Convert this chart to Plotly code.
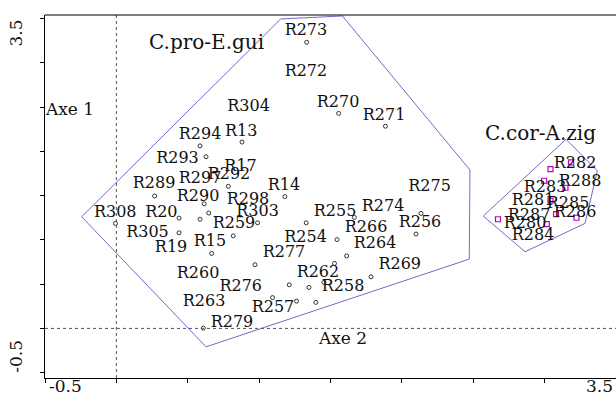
import plotly.graph_objects as go

# ---- data ----
label_names = ["R273", "R272", "R304", "R270", "R271", "R294", "R13", "R293", "R17", "R297",
               "R292", "R289", "R14", "R290", "R298", "R308", "R20", "R303", "R259", "R305",
               "R19", "R15", "R260", "R276", "R263", "R257", "R279", "R277", "R254", "R262",
               "R258", "R266", "R264", "R269", "R255", "R274", "R256", "R275"]
label_x = [1.328, 1.328, 0.926, 1.553, 1.875, 0.586, 0.875, 0.428, 0.870, 0.586,
           0.789, 0.264, 1.174, 0.572, 0.922, -0.008, 0.315, 0.989, 0.824, 0.218,
           0.383, 0.656, 0.572, 0.871, 0.614, 1.097, 0.810, 1.174, 1.325, 1.412,
           1.588, 1.749, 1.812, 1.985, 1.532, 1.868, 2.127, 2.194]
label_y = [3.359, 2.893, 2.504, 2.549, 2.402, 2.184, 2.221, 1.910, 1.826, 1.684,
           1.732, 1.627, 1.611, 1.480, 1.450, 1.306, 1.306, 1.318, 1.179, 1.073,
           0.904, 0.979, 0.610, 0.463, 0.301, 0.226, 0.063, 0.847, 1.017, 0.628,
           0.470, 1.130, 0.953, 0.715, 1.318, 1.374, 1.186, 1.600]

zig_names = ["R282", "R288", "R283", "R281", "R285", "R286", "R287", "R280", "R284"]
zig_label_x = [3.213, 3.248, 3.003, 2.919, 3.164, 3.213, 2.891, 2.863, 2.919]
zig_label_y = [1.856, 1.656, 1.582, 1.438, 1.405, 1.299, 1.269, 1.175, 1.043]

gui_pts_x = [1.333, 1.557, 1.885, 0.586, 0.880, 0.628, 0.784, 0.268, 0.615, 0.647,
             0.439, 0.586, -0.006, 0.989, 0.439, 0.819, 1.180, 1.330, 0.668, 1.667,
             2.134, 2.099, 1.546, 1.613, 1.528, 0.971, 1.784, 1.211, 1.349, 1.094,
             1.262, 1.397, 0.609, 1.454]
gui_pts_y = [3.232, 2.429, 2.284, 2.062, 2.105, 1.939, 1.605, 1.495, 1.408, 1.303,
             1.246, 1.233, 1.186, 1.193, 1.080, 1.046, 1.489, 1.193, 0.847, 1.254,
             1.299, 1.066, 1.003, 0.819, 0.734, 0.719, 0.583, 0.493, 0.463, 0.348,
             0.308, 0.294, 0.003, 0.520]

zig_pts_x = [3.041, 3.185, 2.996, 3.146, 3.041, 3.080, 3.223, 2.673, 3.015]
zig_pts_y = [1.800, 1.876, 1.668, 1.589, 1.444, 1.292, 1.250, 1.233, 1.179]

hull_gui_x = [1.151, 1.583, 2.477, 2.472, 0.628, -0.243]
hull_gui_y = [3.495, 3.529, 1.789, 0.783, -0.208, 1.261]
hull_zig_x = [3.150, 3.369, 3.283, 2.863, 2.570]
hull_zig_y = [2.136, 1.781, 1.186, 0.866, 1.269]

group_names = ["C.pro-E.gui", "C.cor-A.zig"]
group_x = [0.631, 2.568]
group_y = [3.235, 2.210]

x_range = [-0.5, 3.5]
y_range = [-0.56, 3.54]
tick_vals = [-0.5, 0.0, 0.5, 1.0, 1.5, 2.0, 2.5, 3.0, 3.5]
x_tick_labels = ["-0.5", "3.5"]
y_tick_labels = ["3.5", "-0.5"]

FONT = "DejaVu Serif"
HULL = "#7468c8"
MAG = "#c000c0"
TXT = "#111111"

fig = go.Figure()

# dotted reference lines
fig.add_shape(type="line", x0=0, x1=0, y0=0, y1=1, xref="x", yref="paper",
              line=dict(color="#555555", width=1, dash="dot"))
fig.add_shape(type="line", x0=0, x1=1, y0=0, y1=0, xref="paper", yref="y",
              line=dict(color="#555555", width=1, dash="dot"))
# top border
fig.add_shape(type="line", x0=0, x1=1, y0=1, y1=1, xref="paper", yref="paper",
              line=dict(color="black", width=1.2))

# hulls
fig.add_trace(go.Scatter(x=hull_gui_x + hull_gui_x[:1], y=hull_gui_y + hull_gui_y[:1],
                         mode="lines", line=dict(color=HULL, width=1), hoverinfo="skip"))
fig.add_trace(go.Scatter(x=hull_zig_x + hull_zig_x[:1], y=hull_zig_y + hull_zig_y[:1],
                         mode="lines", line=dict(color=HULL, width=1), hoverinfo="skip"))

# points
fig.add_trace(go.Scatter(x=gui_pts_x, y=gui_pts_y, mode="markers",
                         marker=dict(symbol="circle-open", size=4, color="#333333",
                                     line=dict(width=1))))
fig.add_trace(go.Scatter(x=zig_pts_x, y=zig_pts_y, mode="markers",
                         marker=dict(symbol="square-open", size=5, color=MAG,
                                     line=dict(width=1.2))))

# labels
fig.add_trace(go.Scatter(x=label_x, y=label_y, text=label_names, mode="text",
                         textposition="middle center",
                         textfont=dict(family=FONT, size=16, color=TXT)))
fig.add_trace(go.Scatter(x=zig_label_x, y=zig_label_y, text=zig_names, mode="text",
                         textposition="middle center",
                         textfont=dict(family=FONT, size=16, color=TXT)))

# group labels
fig.add_annotation(x=group_x[0], y=group_y[0], text=group_names[0], showarrow=False,
                   xanchor="center", yanchor="middle",
                   font=dict(family=FONT, size=20, color=TXT))
fig.add_annotation(x=group_x[1], y=group_y[1], text=group_names[1], showarrow=False,
                   xanchor="left", yanchor="middle",
                   font=dict(family=FONT, size=20, color=TXT))

# axis names
fig.add_annotation(x=-0.325, y=2.478, text="Axe 1", showarrow=False,
                   font=dict(family=FONT, size=17, color=TXT))
fig.add_annotation(x=1.581, y=-0.106, text="Axe 2", showarrow=False,
                   font=dict(family=FONT, size=17, color=TXT))

# tick labels (only extremes)
fig.add_annotation(x=x_range[0], y=0, xref="x", yref="paper", text=x_tick_labels[0],
                   showarrow=False, xanchor="center", yanchor="middle", xshift=20, yshift=-8,
                   font=dict(family=FONT, size=17, color=TXT))
fig.add_annotation(x=x_range[1], y=0, xref="x", yref="paper", text=x_tick_labels[1],
                   showarrow=False, xanchor="right", yanchor="middle", xshift=-1, yshift=-8,
                   font=dict(family=FONT, size=17, color=TXT))
fig.add_annotation(x=0, y=3.5, xref="paper", yref="y", text=y_tick_labels[0],
                   showarrow=False, textangle=-90, xanchor="right", yanchor="middle",
                   xshift=-17, yshift=-15,
                   font=dict(family=FONT, size=17, color=TXT))
fig.add_annotation(x=0, y=-0.5, xref="paper", yref="y", text=y_tick_labels[1],
                   showarrow=False, textangle=-90, xanchor="right", yanchor="middle",
                   xshift=-17, yshift=16,
                   font=dict(family=FONT, size=17, color=TXT))

fig.update_layout(
    width=616, height=394,
    margin=dict(l=45, r=0, t=15, b=16),
    paper_bgcolor="white", plot_bgcolor="white",
    showlegend=False,
    xaxis=dict(range=x_range, showgrid=False, zeroline=False, showline=True,
               linecolor="black", linewidth=1.2, ticks="outside", ticklen=4,
               tickcolor="black", tickvals=tick_vals, showticklabels=False),
    yaxis=dict(range=y_range, showgrid=False, zeroline=False, showline=True,
               linecolor="black", linewidth=1.2, ticks="outside", ticklen=4,
               tickcolor="black", tickvals=tick_vals, showticklabels=False),
)

fig.write_html("out.html", config={"displayModeBar": False},
               post_script="document.body.style.margin='0';")
